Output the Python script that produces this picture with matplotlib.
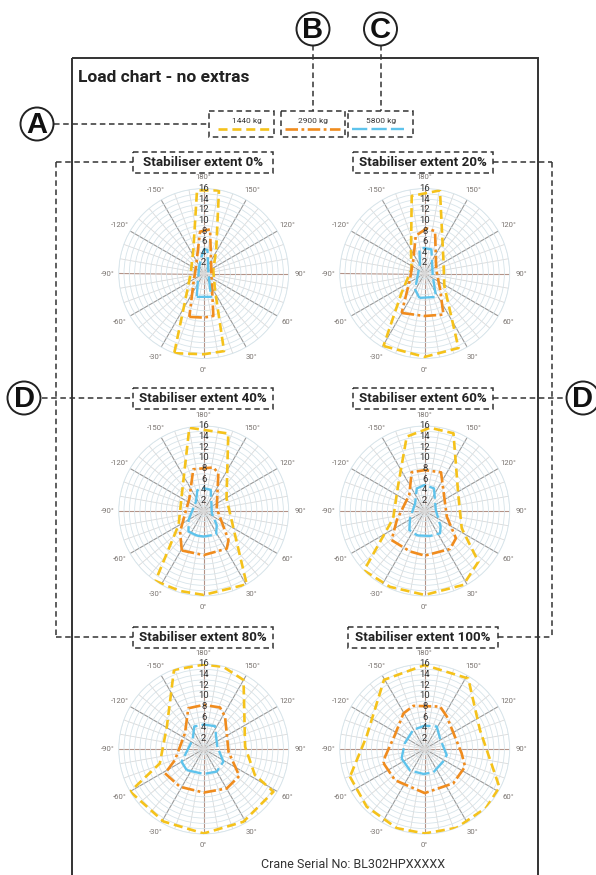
import numpy as np
import matplotlib
matplotlib.use('Agg')
import matplotlib.pyplot as plt
from matplotlib.patches import Rectangle, Circle

plt.rcParams['font.family'] = ['Roboto', 'DejaVu Sans']
plt.rcParams['lines.scale_dashes'] = False

# ---------------- data ----------------
loads = ['1440 kg', '2900 kg', '5800 kg']
extents = ['0%', '20%', '40%', '60%', '80%', '100%']
ang_ticks = [0, 30, 60, 90, 120, 150, 180, 210, 240, 270, 300, 330]
ang_labels = ['0°', '30°', '60°', '90°', '120°', '150°', '180°',
              '-150°', '-120°', '-90°', '-60°', '-30°']
r_ticks = [2, 4, 6, 8, 10, 12, 14, 16]

# extent 0 %
e0_1440_ang = [-20.3, 0, 14.7, 34.2, 109, 152, 169.6, -175.4, -156, -90, -44.4]
e0_1440_r = [16.0, 15.2, 15.1, 3.8, 1.9, 5.0, 15.9, 15.7, 4.8, 2.45, 4.4]
e0_2900_ang = [-18.3, 0, 12.8, 66.5, 163.3, 171.8, -175, -137.4, -46]
e0_2900_r = [8.6, 8.3, 8.2, 1.6, 4.6, 8.4, 7.9, 2.1, 2.7]
e0_5800_ang = [-16.7, 17.4, 90, 171, 179, -173, -145, -31]
e0_5800_r = [4.6, 4.6, 0.9, 4.5, 4.6, 3.2, 1.5, 2.2]

# extent 20 %
e20_1440_ang = [-29.6, 0, 24.4, 57.2, 126.9, 169.6, -170.5, -150.3, -107, -50]
e20_1440_r = [15.7, 15.7, 15.4, 4.4, 4.4, 15.9, 14.8, 5.2, 2.6, 5.7]
e20_2900_ang = [-30.3, 0, 24.5, 43.8, 109.4, 166.3, 177.5, -166.7, -141, -67.8]
e20_2900_r = [8.6, 8.0, 8.5, 4.2, 2.3, 8.2, 8.5, 7.3, 3.4, 3.0]
e20_5800_ang = [-12.4, 25.9, 71.6, 164.5, -178.5, -167.5, -156.4, -31]
e20_5800_r = [4.7, 4.9, 1.6, 4.7, 4.8, 4.6, 2.2, 3.5]

# extent 40 %
e40_1440_ang = [-34.6, -16.5, 0, 30.4, 59.7, 118.8, 162.4, -170.2, -126, -61]
e40_1440_r = [16.0, 15.7, 15.8, 16.0, 6.5, 4.9, 15.3, 15.9, 5.1, 5.4]
e40_2900_ang = [-29, 0, 31.6, 40.4, 101.6, 158.7, 167.4, -166, -131.5, -48.9]
e40_2900_r = [8.5, 8.3, 8.3, 7.2, 2.5, 7.6, 8.4, 8.1, 3.6, 5.9]
e40_5800_ang = [-15.8, 0, 27.9, 42.9, 73.7, 161.6, 180, -163.2, -140.6, -59.6, -36.6]
e40_5800_r = [4.8, 4.8, 5.0, 3.6, 1.6, 4.2, 4.3, 4.1, 2.3, 3.3, 4.8]

# extent 60 %
e60_1440_ang = [-45.6, -24.6, 0, 27.6, 46.6, 64.9, 115.4, 159.7, 176.3, -166.4, -134.6, -76.8]
e60_1440_r = [16.0, 15.7, 15.8, 15.7, 13.9, 7.7, 7.0, 15.6, 15.7, 14.4, 7.0, 6.1]
e60_2900_ang = [-48.7, -19.8, 0, 33.7, 48.9, 75.6, 136, 157.1, 180, -161.4, -136.2, -72.2]
e60_2900_r = [8.3, 8.1, 8.4, 8.6, 7.8, 4.3, 5.1, 7.9, 7.7, 7.7, 4.2, 5.5]
e60_5800_ang = [-16.6, 12, 34.5, 45.6, 95, 157.6, 180, -160.6, -128.4, -63.4, -38.9]
e60_5800_r = [4.8, 4.8, 5.1, 4.2, 2.1, 4.6, 4.9, 4.5, 2.3, 3.1, 4.6]

# extent 80 %
e80_1440_ang = [-59.9, -29, 0, 28.6, 58.5, 63.1, 93.2, 150, 166.6, 180, -159.4, -121.1, -71.8]
e80_1440_r = [16.0, 15.6, 15.9, 15.6, 15.4, 10.8, 7.8, 15.0, 15.9, 15.9, 15.9, 8.1, 8.7]
e80_2900_ang = [-57.8, -32.1, 0, 30.3, 52.9, 83.8, 146.6, 158.6, 180, -159.3, -130, -69]
e80_2900_r = [8.6, 8.4, 8.2, 8.6, 8.4, 4.7, 7.3, 8.4, 8.3, 8.2, 4.6, 5.8]
e80_5800_ang = [-39, 0, 29.8, 57.2, 102.4, 153.8, 180, -157.3, -129.3, -60]
e80_5800_r = [5.1, 4.7, 4.9, 4.4, 2.6, 4.8, 4.6, 4.6, 2.7, 4.8]

# extent 100 %
e100_1440_ang = [-69.7, -45.2, -19.4, 0, 22, 46.3, 62.9, 109, 148.3, 180, -149.5, -102]
e100_1440_r = [15.0, 15.4, 15.8, 15.9, 16.0, 16.0, 15.8, 11.0, 15.6, 15.8, 15.1, 11.2]
e100_2900_ang = [-70.9, -43.7, 0, 39.9, 66.3, 83.3, 145.8, 160.1, -165.2, -149.1, -115.3, -79]
e100_2900_r = [8.2, 8.1, 8.3, 8.4, 8.3, 7.0, 7.4, 8.5, 8.4, 7.8, 6.2, 7.6]
e100_5800_ang = [-67.9, -34.1, -3, 20.1, 55.8, 74.7, 124.8, 151.7, 180, -149.2, -106]
e100_5800_r = [4.7, 4.9, 4.7, 4.7, 4.2, 4.3, 3.5, 4.8, 4.4, 4.2, 3.9]

curves = {
    '0%': [(e0_1440_ang, e0_1440_r), (e0_2900_ang, e0_2900_r), (e0_5800_ang, e0_5800_r)],
    '20%': [(e20_1440_ang, e20_1440_r), (e20_2900_ang, e20_2900_r), (e20_5800_ang, e20_5800_r)],
    '40%': [(e40_1440_ang, e40_1440_r), (e40_2900_ang, e40_2900_r), (e40_5800_ang, e40_5800_r)],
    '60%': [(e60_1440_ang, e60_1440_r), (e60_2900_ang, e60_2900_r), (e60_5800_ang, e60_5800_r)],
    '80%': [(e80_1440_ang, e80_1440_r), (e80_2900_ang, e80_2900_r), (e80_5800_ang, e80_5800_r)],
    '100%': [(e100_1440_ang, e100_1440_r), (e100_2900_ang, e100_2900_r), (e100_5800_ang, e100_5800_r)],
}

# ---------------- styles ----------------
styles = [
    dict(color='#F5C21B', lw=1.9, ls=(0, (6.5, 3.5))),
    dict(color='#F08C1E', lw=1.9, ls=(0, (9, 2.5, 2, 2.5))),
    dict(color='#5EC3EC', lw=1.7, ls=(0, (11, 3))),
]
DASH = dict(color='#333333', lw=1.1, ls=(0, (4, 2.6)))

W, H = 596, 875
fig = plt.figure(figsize=(W / 100, H / 100), dpi=100)

ov = fig.add_axes([0, 0, 1, 1])
ov.set_xlim(0, W)
ov.set_ylim(H, 0)
ov.axis('off')

# main frame
ov.add_patch(Rectangle((72, 58), 538 - 72, H - 58 + 10, fill=False, ec='#333333', lw=1.4))
ov.text(78, 77, 'Load chart - no extras', fontsize=12.5, fontweight='bold',
        color='#222222', va='center', ha='left')

# legend boxes
leg_boxes = [(209, 274), (281, 345), (348, 413)]
leg_lines = [(218, 269), (285, 340), (352, 404)]
leg_text_x = [247, 313, 381]
for i, lab in enumerate(loads):
    x0, x1 = leg_boxes[i]
    ov.add_patch(Rectangle((x0, 111), x1 - x0, 26, fill=False, **DASH))
    ov.text(leg_text_x[i], 121.5, lab, fontsize=6, color='#333333', ha='center', va='center')
    ov.plot(leg_lines[i], [128.5, 128.5], **styles[i])

def badge(x, y, letter):
    ov.add_patch(Circle((x, y), 16.5, fill=True, fc='white', ec='#222222', lw=1.4, zorder=5))
    ov.text(x, y + 0.8, letter, fontsize=21, fontweight='bold', color='#111111',
            ha='center', va='center', zorder=6, family=['Liberation Sans', 'DejaVu Sans'])

# leaders
ov.plot([54, 209], [124, 124], **DASH)
ov.plot([313, 313], [45, 111], **DASH)
ov.plot([380.5, 380.5], [45, 111], **DASH)
ov.plot([42, 133], [398, 398], **DASH)
ov.plot([493, 567], [398, 398], **DASH)
ov.plot([56, 56], [162, 637], **DASH)
ov.plot([56, 133], [162, 162], **DASH)
ov.plot([56, 133], [637, 637], **DASH)
ov.plot([552, 552], [162, 637], **DASH)
ov.plot([493, 552], [162, 162], **DASH)
ov.plot([498, 552], [637, 637], **DASH)

badge(37, 124, 'A')
badge(313, 29, 'B')
badge(380.5, 29, 'C')
badge(24, 398, 'D')
badge(583, 398, 'D')

# chart positions
centers = [(203.7, 273.5), (424.7, 273.5), (203.7, 511), (424.7, 511), (203.7, 749), (424.7, 749)]
title_boxes = [(133, 273, 152), (353, 493, 152), (133, 273, 388), (353, 493, 388),
               (133, 273, 627), (348, 498, 627)]
R = 85

for k, ext in enumerate(extents):
    cx, cy = centers[k]
    bx0, bx1, by = title_boxes[k]
    ov.add_patch(Rectangle((bx0, by), bx1 - bx0, 20.5, fill=True, fc='white', **DASH))
    ov.text((bx0 + bx1) / 2, by + 10.5, 'Stabiliser extent ' + ext, fontsize=9.6,
            fontweight='bold', color='#222222', ha='center', va='center')

    ax = fig.add_axes([(cx - R) / W, (H - cy - R) / H, 2 * R / W, 2 * R / H],
                      projection='polar')
    ax.set_theta_zero_location('S')
    ax.set_theta_direction(1)
    ax.set_ylim(0, 16)
    ax.set_xticks(np.radians(ang_ticks))
    ax.set_xticklabels(ang_labels, fontsize=5.6, color='#7a7470')
    ax.set_xticks(np.radians(np.arange(0, 360, 10)), minor=True)
    ax.set_yticks(r_ticks)
    ax.set_yticklabels([])
    ax.set_yticks(np.arange(1, 17, 2), minor=True)
    ax.tick_params(axis='x', which='major', pad=1.2, length=0)
    ax.tick_params(which='minor', length=0)
    ax.grid(which='major', axis='y', color='#d7e4ea', lw=0.6)
    ax.grid(which='minor', axis='y', color='#d7e4ea', lw=0.6)
    ax.grid(which='minor', axis='x', color='#dadada', lw=0.6)
    ax.grid(which='major', axis='x', color='#9a9a9a', lw=0.8)
    for t, gl in zip(ang_ticks, ax.xaxis.get_gridlines()):
        if t in (0, 90, 180, 270):
            gl.set_color('#b39388')
    ax.spines['polar'].set_color('#d7e4ea')
    ax.spines['polar'].set_linewidth(0.6)
    ax.set_facecolor('white')

    for (angs, rs), st in zip(curves[ext], styles):
        a = np.radians(list(angs) + [angs[0]])
        r = list(rs) + [rs[0]]
        ax.plot(a, r, zorder=4, **st)

    for rt in r_ticks:
        ax.text(np.pi, rt, str(rt), fontsize=6.8, color='#333333',
                ha='center', va='center', zorder=5)

ov.text(353, 865, 'Crane Serial No: BL302HPXXXXX', fontsize=9, color='#333333',
        ha='center', va='center')

fig.savefig('out.png', dpi=100)
